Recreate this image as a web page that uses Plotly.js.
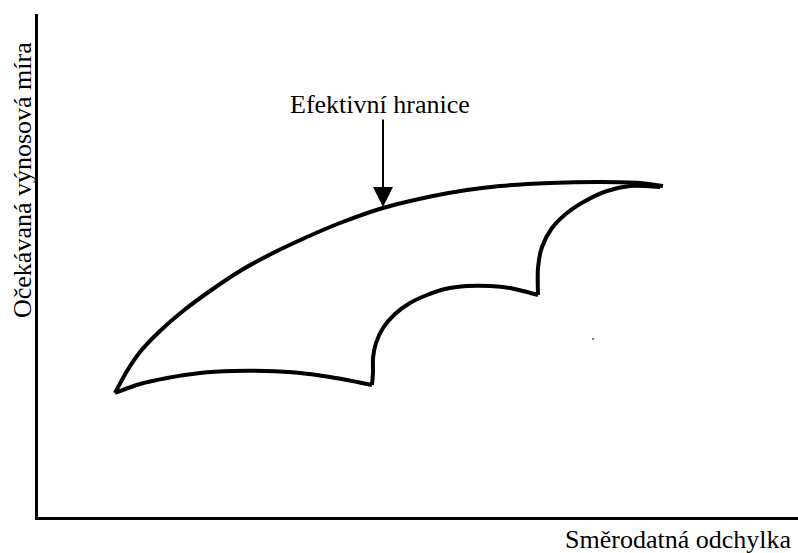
<!DOCTYPE html>
<html>
<head>
<meta charset="utf-8">
<script src="https://cdn.plot.ly/plotly-3.0.1.min.js"></script>
<style>html,body{margin:0;padding:0;background:#fff;}#chart{width:798px;height:553px;}</style>
</head>
<body>
<div id="chart"></div>
<script>
// Stylised risk (x) / expected return (y) values
var upperX = [77, 89, 102, 122, 145, 172, 202, 235, 269, 302, 345, 395, 429, 462, 512, 562, 602, 625];
var upperY = [124, 146, 165, 186, 206, 226, 246, 264, 280, 294, 309, 321, 327, 331, 334, 335, 334, 331];

var rightX = [622, 592, 569, 549, 529, 514, 504, 500, 500];
var rightY = [330, 331, 326, 317, 304, 289, 270, 249, 222];

var midX = [500, 489, 472, 452, 429, 407, 389, 372, 357, 345, 338, 335, 335, 334];
var midY = [222, 225, 229, 231, 231, 228, 222, 214, 203, 189, 174, 159, 145, 132];

var lowerX = [334, 319, 292, 262, 227, 195, 162, 129, 102, 77];
var lowerY = [132, 135, 140, 144, 146, 146, 144, 139, 133, 124];

var dotX = [555];
var dotY = [178];

var labelFrontier = 'Efektivní hranice';
var labelX = 'Směrodatná odchylka';
var labelY = 'Očekávaná výnosová míra';

function seg(x, y) {
  return {x: x, y: y, type: 'scatter', mode: 'lines', line: {color: '#000', width: 4, shape: 'spline', smoothing: 0.8}, hoverinfo: 'skip', showlegend: false};
}
function serif() {
  return {family: 'Liberation Serif', size: 26, color: '#000'};
}
var data = [
  seg(upperX, upperY),
  seg(rightX, rightY),
  seg(midX, midY),
  seg(lowerX, lowerY),
  {x: dotX, y: dotY, type: 'scatter', mode: 'markers', marker: {color: '#555', size: 2}, showlegend: false, hoverinfo: 'skip'}
];

var layout = {
  width: 798, height: 553,
  margin: {l: 38, r: 0, t: 14, b: 36, pad: 0},
  paper_bgcolor: '#fff', plot_bgcolor: '#fff',
  showlegend: false,
  xaxis: {range: [0, 760], showline: true, linecolor: '#000', linewidth: 3, showgrid: false, zeroline: false, showticklabels: false, ticks: '', fixedrange: true},
  yaxis: {range: [0, 503], showline: true, linecolor: '#000', linewidth: 3, showgrid: false, zeroline: false, showticklabels: false, ticks: '', fixedrange: true},
  annotations: [
    {text: labelFrontier, x: 342, y: 413, xref: 'x', yref: 'y', showarrow: false, font: serif(), xanchor: 'center', yanchor: 'middle'},
    {text: '', x: 345, y: 310, xref: 'x', yref: 'y', ax: 345, ay: 399, axref: 'x', ayref: 'y', showarrow: true, arrowhead: 2, arrowsize: 2, arrowwidth: 2, arrowcolor: '#000'},
    {text: labelX, x: 0.9934, y: -0.044, xref: 'paper', yref: 'paper', showarrow: false, font: serif(), xanchor: 'right', yanchor: 'middle'},
    {text: labelY, x: -0.0197, y: 0.67, xref: 'paper', yref: 'paper', showarrow: false, font: serif(), textangle: -90, xanchor: 'center', yanchor: 'middle'}
  ]
};
Plotly.newPlot('chart', data, layout, {staticPlot: true});
</script>
</body>
</html>
